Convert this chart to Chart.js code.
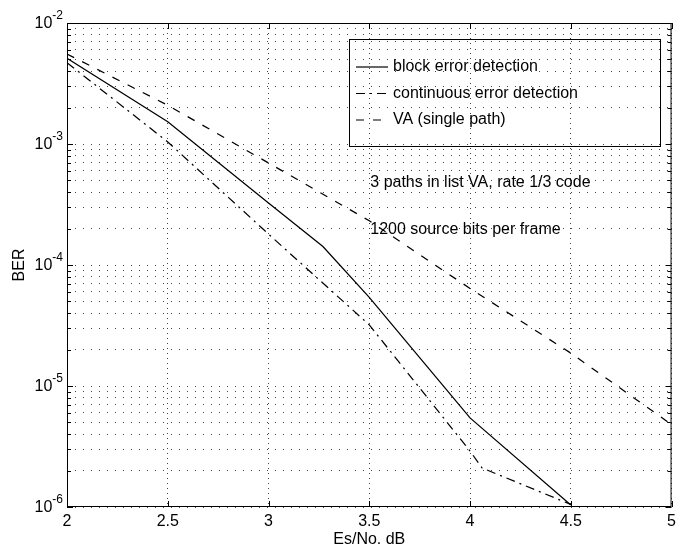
<!DOCTYPE html>
<html>
<head>
<meta charset="utf-8">
<script src="https://cdn.jsdelivr.net/npm/chart.js"></script>
<style>
  body { margin: 0; padding: 0; background: #fff; }
  #wrap { width: 681px; height: 546px; position: relative; }
</style>
</head>
<body>
<div id="wrap"><canvas id="berChart"></canvas></div>
<script>
  // values (Es/No in dB, BER)
  const blockX = [2, 2.5, 3, 3.27, 3.5, 4, 4.5];
  const blockBER = [5.1e-3, 1.53e-3, 3.25e-4, 1.42e-4, 5.4e-5, 5.45e-6, 1.04e-6];

  const contX = [2, 2.5, 3, 3.5, 4, 4.06, 4.5];
  const contBER = [4.7e-3, 1.04e-3, 1.8e-4, 3.2e-5, 2.9e-6, 2.1e-6, 1.05e-6];

  const vaX = [2, 2.5, 3, 3.5, 4, 4.5, 5];
  const vaBER = [5.55e-3, 2.09e-3, 6.97e-4, 2.32e-4, 6.4e-5, 1.87e-5, 4.8e-6];

  const seriesLabels = ['block error detection', 'continuous error detection', 'VA (single path)'];
  const xTicks = [2, 2.5, 3, 3.5, 4, 4.5, 5];
  const yExps = [-6, -5, -4, -3, -2];
  const notes = ['3 paths in list VA, rate 1/3 code', '1200 source bits per frame'];

  const FONT = "'Liberation Sans', Arial, Helvetica, sans-serif";
  Chart.defaults.font.family = FONT;
  Chart.defaults.color = '#000';

  const pts = (xs, ys) => xs.map((v, i) => ({ x: v, y: ys[i] }));

  // every decade gets 1..9 grid lines like the matlab log axis
  const yTickValues = [];
  yExps.forEach((e, i) => {
    const last = i === yExps.length - 1;
    for (let m = 1; m <= (last ? 1 : 9); m++) yTickValues.push(m * Math.pow(10, e));
  });

  const dashes = [[], [9, 5, 2, 5], [8, 9]];

  // box, inner ticks, y labels with exponents, legend and the two notes
  const decor = {
    id: 'decor',
    afterDatasetsDraw(chart) {
      const { ctx, chartArea: a, scales: { x, y } } = chart;
      ctx.save();
      ctx.strokeStyle = '#000';
      ctx.lineWidth = 1;
      ctx.setLineDash([]);
      ctx.strokeRect(a.left + 0.5, a.top + 0.5, a.right - a.left - 1, a.bottom - a.top - 1);

      ctx.beginPath();
      yTickValues.forEach(v => {
        const py = Math.round(y.getPixelForValue(v)) + 0.5;
        const len = Math.abs(Math.log10(v) - Math.round(Math.log10(v))) < 1e-9 ? 6 : 4;
        ctx.moveTo(a.left, py); ctx.lineTo(a.left + len, py);
        ctx.moveTo(a.right, py); ctx.lineTo(a.right - len, py);
      });
      xTicks.forEach(v => {
        const px = Math.round(x.getPixelForValue(v)) + 0.5;
        ctx.moveTo(px, a.bottom); ctx.lineTo(px, a.bottom - 6);
        ctx.moveTo(px, a.top); ctx.lineTo(px, a.top + 6);
      });
      ctx.stroke();

      // y tick labels: 10 with raised exponent
      ctx.fillStyle = '#000';
      ctx.textBaseline = 'middle';
      ctx.textAlign = 'right';
      yExps.forEach(e => {
        const py = y.getPixelForValue(Math.pow(10, e));
        ctx.font = '12px ' + FONT;
        const expTxt = '-' + Math.abs(e);
        const ew = ctx.measureText(expTxt).width;
        ctx.fillText(expTxt, a.left - 4, py - 7);
        ctx.font = '16px ' + FONT;
        ctx.fillText('10', a.left - 4 - ew, py + 1);
      });

      // legend
      const lx = 349, ly = 39, lw = 311, lh = 107;
      ctx.strokeRect(lx + 0.5, ly + 0.5, lw, lh);
      ctx.font = '16px ' + FONT;
      ctx.textAlign = 'left';
      chart.data.datasets.forEach((ds, i) => {
        const ry = ly + 28 + i * 26.5;
        ctx.setLineDash(ds.borderDash || []);
        ctx.lineWidth = 1.2;
        ctx.beginPath();
        ctx.moveTo(lx + 7, ry); ctx.lineTo(lx + 39, ry);
        ctx.stroke();
        ctx.setLineDash([]);
        ctx.fillText(ds.label, lx + 44, ry);
      });

      // notes
      ctx.fillText(notes[0], x.getPixelForValue(3.505), y.getPixelForValue(4.77e-4));
      ctx.fillText(notes[1], x.getPixelForValue(3.505), y.getPixelForValue(1.95e-4));
      ctx.restore();
    }
  };

  new Chart(document.getElementById('berChart'), {
    type: 'line',
    data: {
      datasets: [
        { label: seriesLabels[0], data: pts(blockX, blockBER), borderDash: dashes[0] },
        { label: seriesLabels[1], data: pts(contX, contBER), borderDash: dashes[1] },
        { label: seriesLabels[2], data: pts(vaX, vaBER), borderDash: dashes[2] }
      ].map(d => Object.assign(d, {
        borderColor: '#000', borderWidth: 1.25, pointRadius: 0, tension: 0, fill: false
      }))
    },
    options: {
      responsive: true,
      maintainAspectRatio: false,
      animation: false,
      layout: { padding: { top: 23, right: 8, left: 0, bottom: 0 } },
      plugins: { legend: { display: false }, tooltip: { enabled: false } },
      scales: {
        x: {
          type: 'linear', min: 2, max: 5,
          afterBuildTicks: s => { s.ticks = xTicks.map(v => ({ value: v })); },
          afterFit: s => { s.height = 39; },
          ticks: { font: { size: 16 }, padding: 5, maxRotation: 0, callback: v => String(v) },
          grid: { color: '#444', lineWidth: 1, drawTicks: false },
          border: { display: false, dash: [1, 4] },
          title: { display: true, text: 'Es/No. dB', font: { size: 16 }, padding: { top: 0, bottom: -3 } }
        },
        y: {
          type: 'logarithmic', min: 1e-6, max: 1e-2,
          afterBuildTicks: s => { s.ticks = yTickValues.map(v => ({ value: v })); },
          afterFit: s => { s.width = 67; },
          ticks: { display: false },
          grid: { color: '#444', lineWidth: 1, drawTicks: false },
          border: { display: false, dash: [1, 7] },
          title: { display: true, text: 'BER', font: { size: 16 }, padding: { top: 10, bottom: 0 } }
        }
      }
    },
    plugins: [decor]
  });
</script>
</body>
</html>
